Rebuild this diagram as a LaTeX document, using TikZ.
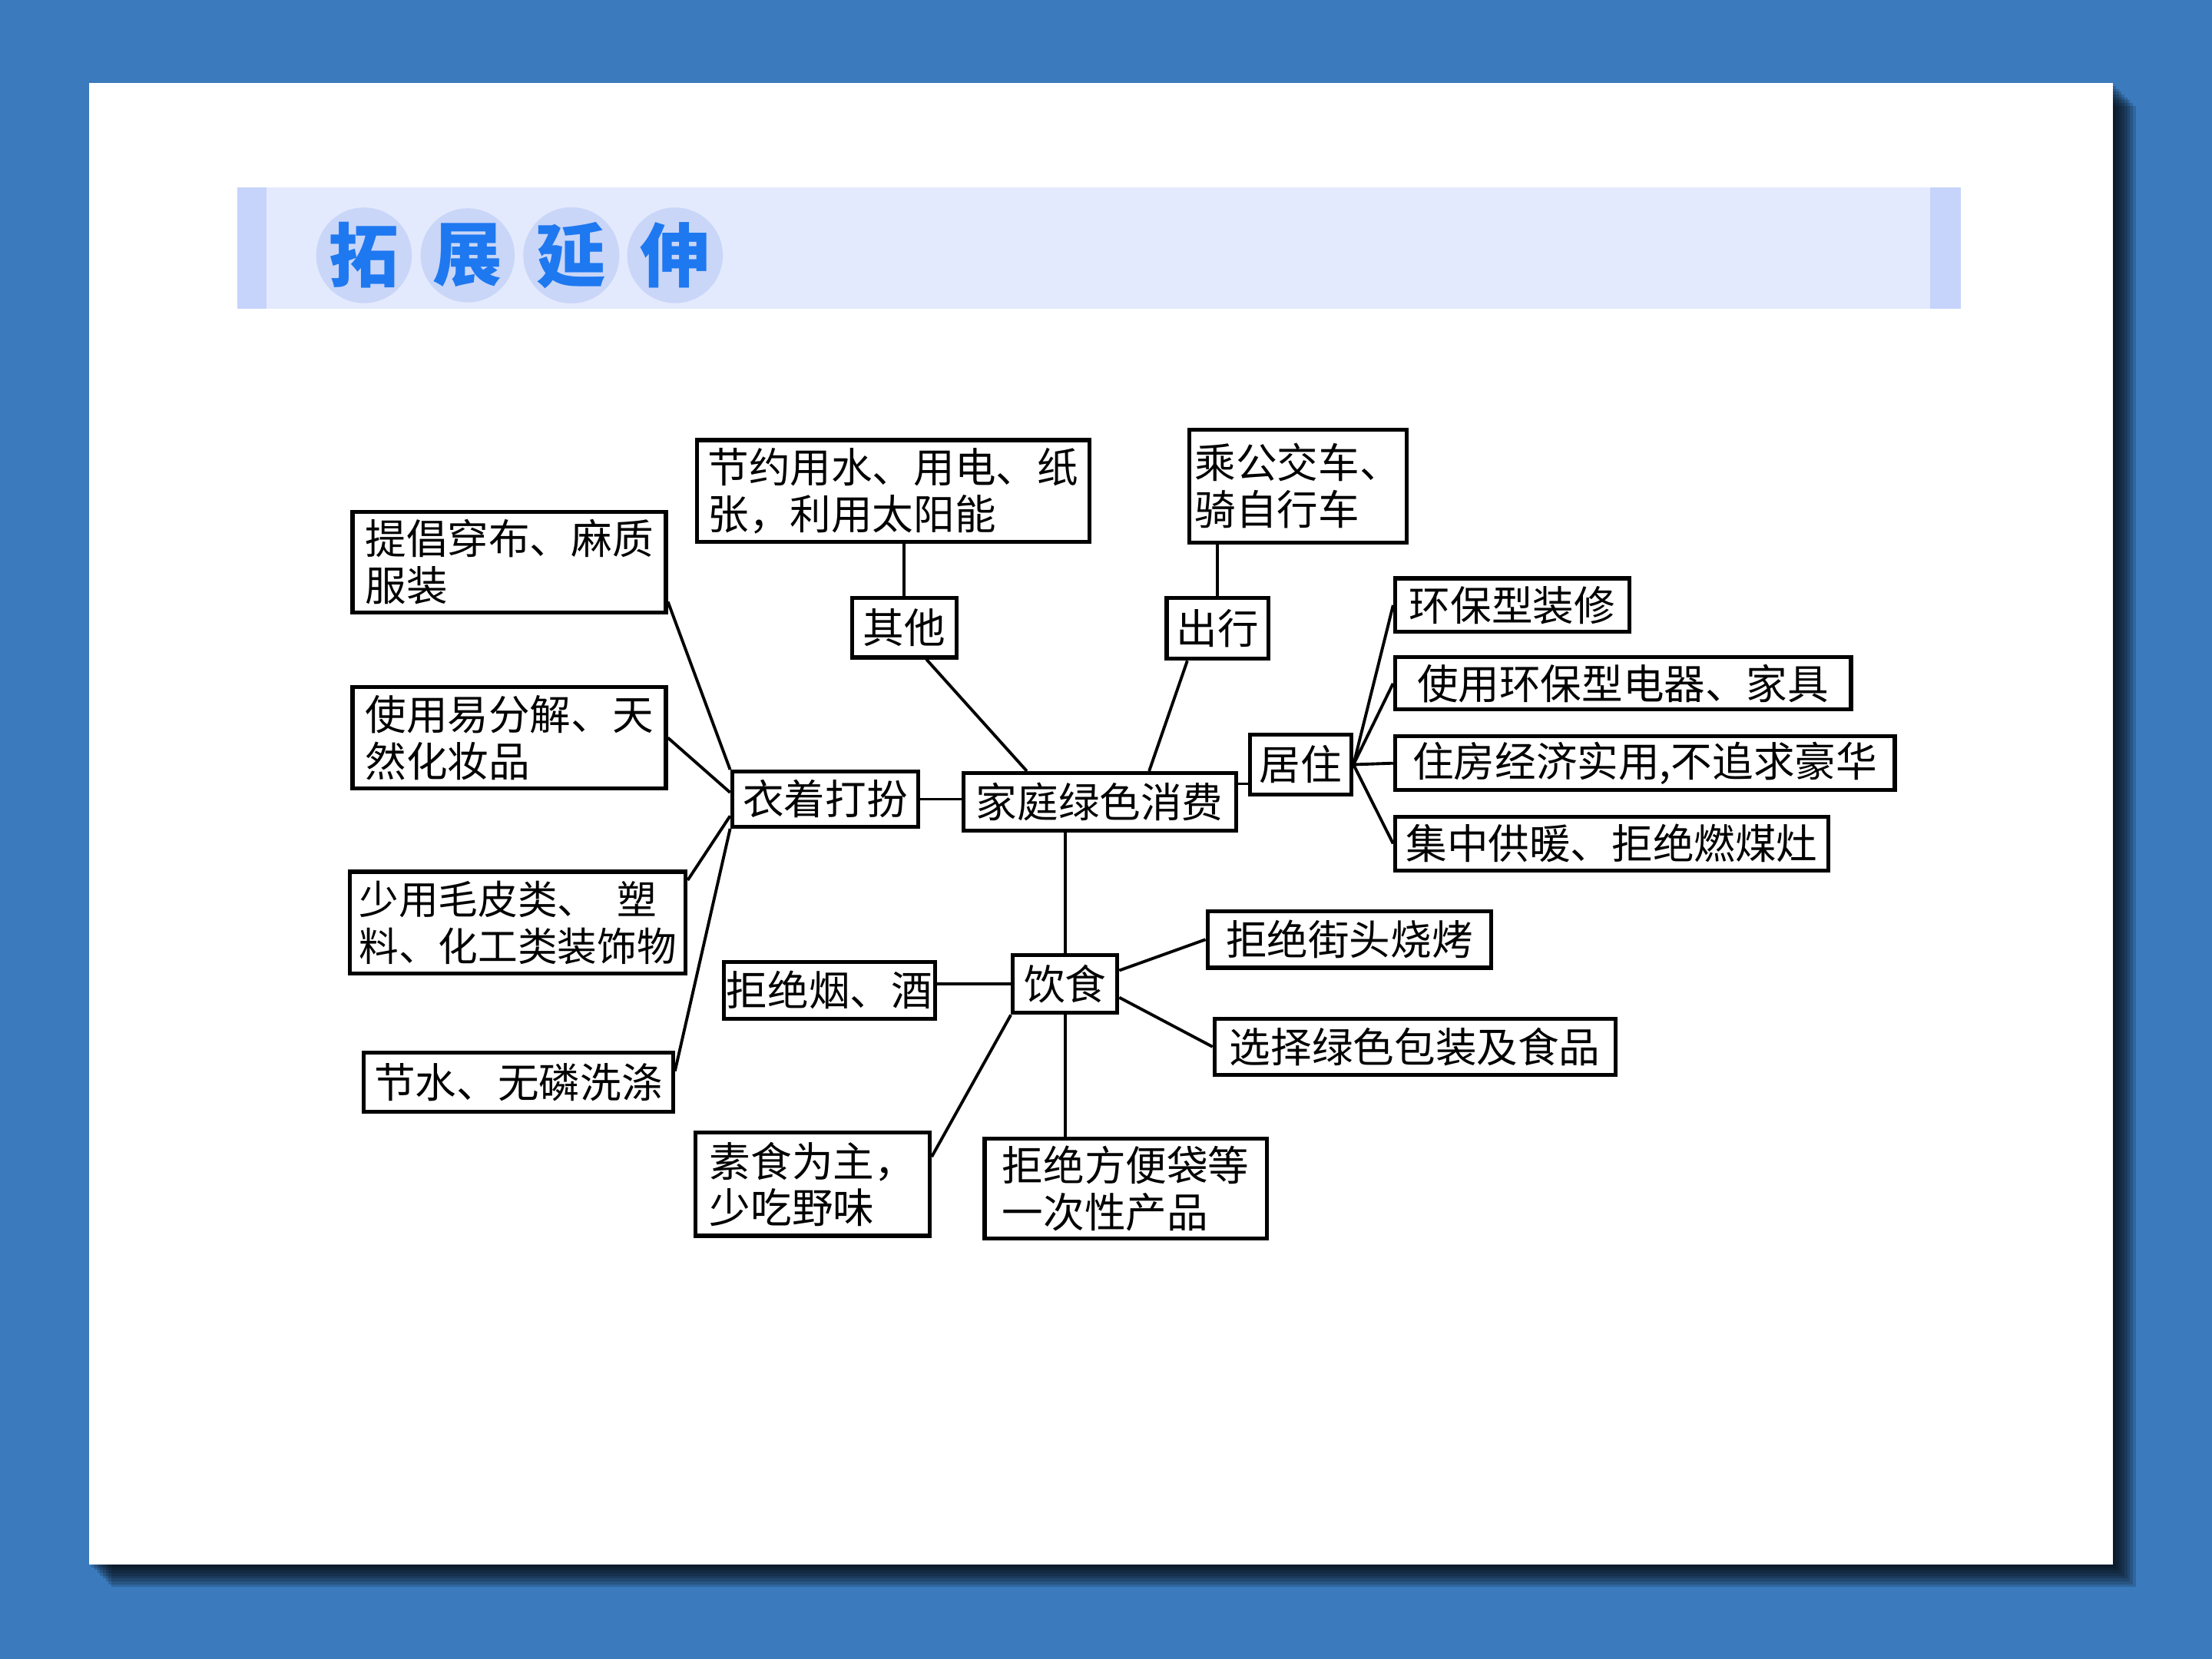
\documentclass[tikz,border=0pt]{standalone}
\usepackage{fontspec}
\newfontfamily\cjk{Noto Sans CJK SC}

\definecolor{slideblue}{HTML}{3A7ABD}
\definecolor{barfill}{HTML}{E4EAFD}
\definecolor{baredge}{HTML}{C6D3FB}
\definecolor{titleblue}{HTML}{1E78F0}
\definecolor{circfill}{HTML}{C9D6F8}

\begin{document}
\begin{tikzpicture}[x=0.01cm,y=-0.01cm,line width=0.6pt,
  main node/.style={draw,line width=0.8pt,inner sep=0pt,align=left,font=\cjk\fontsize{8.3pt}{9.4pt}\selectfont},
  title node/.style={circle,fill=circfill,minimum size=0.64cm,inner sep=0pt,text=titleblue,font=\cjk\bfseries\fontsize{14pt}{14pt}\selectfont}]

  % slide
  \fill[slideblue] (0,0) rectangle (1568,1176);
  \useasboundingbox (0,0) rectangle (1568,1176);
  \foreach \d in {2,4,...,16}
    \fill[black,opacity=0.16] (63+\d,59+\d) rectangle (1498+\d,1109+\d);
  \fill[white] (63,59) rectangle (1498,1109);

  % title bar
  \fill[barfill] (168,133) rectangle (1390,219);
  \fill[baredge] (168,133) rectangle (189,219);
  \fill[baredge] (1368,133) rectangle (1390,219);
  \foreach \c [count=\i] in {拓,展,延,伸}
    \node[title node] (t\i) at (184.5+73.5*\i,181) {\c};

  % boxes
  \node[main node,minimum width=1.93cm,minimum height=0.41cm] (0) at (779.5,568.5) {家庭绿色消费};
  \node[main node,minimum width=1.32cm,minimum height=0.39cm] (1) at (585,566.5) {衣着打扮};
  \node[main node,minimum width=0.74cm,minimum height=0.42cm] (2) at (641,445) {其他};
  \node[main node,minimum width=0.72cm,minimum height=0.43cm] (3) at (863,445.5) {出行};
  \node[main node,minimum width=0.72cm,minimum height=0.42cm] (4) at (922,542) {居住};
  \node[main node,minimum width=0.74cm,minimum height=0.41cm] (5) at (755,697.5) {饮食};

  \node[main node,minimum width=2.22cm,minimum height=0.71cm] (6) at (361,398.5) {提倡穿布、麻质\\服装};
  \node[main node,minimum width=2.22cm,minimum height=0.72cm] (7) at (361,523) {使用易分解、天\\然化妆品};
  \node[main node,minimum width=2.38cm,minimum height=0.72cm,font=\cjk\fontsize{8pt}{9.4pt}\selectfont] (8) at (367,654) {少用毛皮类、\hspace{0.5em}塑\\料、化工类装饰物};
  \node[main node,minimum width=2.19cm,minimum height=0.42cm] (9) at (367.5,767) {节水、无磷洗涤};
  \node[main node,minimum width=2.78cm,minimum height=0.72cm] (10) at (633,348) {节约用水、用电、纸\\张，利用太阳能};
  \node[main node,minimum width=1.54cm,minimum height=0.80cm] (11) at (920,344.5) {乘公交车、\\骑自行车};
  \node[main node,minimum width=1.66cm,minimum height=0.38cm] (12) at (1072,429) {环保型装修};
  \node[main node,minimum width=3.23cm,minimum height=0.37cm] (13) at (1150.5,484.5) {使用环保型电器、家具};
  \node[main node,minimum width=3.54cm,minimum height=0.38cm] (14) at (1166,541) {住房经济实用,不追求豪华};
  \node[main node,minimum width=3.07cm,minimum height=0.38cm] (15) at (1142.5,598) {集中供暖、拒绝燃煤灶};
  \node[main node,minimum width=2.01cm,minimum height=0.40cm] (16) at (956.5,666) {拒绝街头烧烤};
  \node[main node,minimum width=2.84cm,minimum height=0.40cm] (17) at (1003,742) {选择绿色包装及食品};
  \node[main node,minimum width=1.50cm,minimum height=0.40cm] (18) at (588,702) {拒绝烟、酒};
  \node[main node,minimum width=1.66cm,minimum height=0.73cm] (19) at (576,839.5) {素食为主，\\少吃野味};
  \node[main node,minimum width=2.00cm,minimum height=0.71cm] (20) at (798,842.5) {拒绝方便袋等\\一次性产品};

  \path
    (1.east) edge (1.east -| 0.west)
    (2) edge (2 |- 10.south)
    (2.-55) edge (0.157)
    (3) edge (3 |- 11.south)
    (3.227) edge (0.32)
    (4.200) edge (4.200 -| 0.east)
    (4.east) edge (12.west)
             edge (13.west)
             edge (14.west)
             edge (15.west)
    (5) edge (5 |- 0.south)
    (5.west) edge (5.west -| 18.east)
    (5.14) edge (16.west)
    (5.-14) edge (17.west)
    (5.south west) edge (19.13)
    (5.south) edge (5.south |- 20.north)
    (1.north west) edge (6.-14)
    (1.176) edge (7.east)
    (1.190) edge (8.14)
    (1.south west) edge (9.4)
;
\end{tikzpicture}
\end{document}
